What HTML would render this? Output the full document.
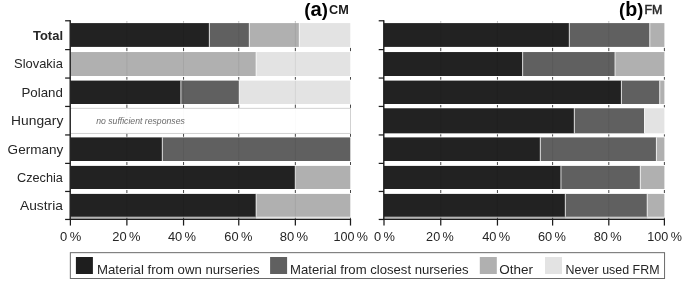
<!DOCTYPE html>
<html lang="en"><head><meta charset="utf-8"><title>FRM sources by country</title>
<style>
html,body{margin:0;padding:0;background:#fff;}
body{width:685px;height:283px;overflow:hidden;}
svg{display:block;opacity:0.999;will-change:transform;}
svg text{font-family:"Liberation Sans", "DejaVu Sans", sans-serif;}
.lab{font-size:13.3px;fill:#262626;}
.ax{stroke:#1c1c1c;stroke-width:1.25;fill:none;stroke-linecap:butt;}
.grid{stroke:#000;stroke-opacity:0.9;stroke-width:0.8;}
.gridin{stroke:#000;stroke-opacity:0.08;stroke-width:0.9;}
</style></head><body>
<svg width="685" height="283" viewBox="0 0 685 283">
<rect x="0" y="0" width="685" height="283" fill="#ffffff"/>
<g class="grid">
<line x1="126.88" y1="21.23" x2="126.88" y2="22.65" stroke-opacity="0.41"/>
<line x1="183.55" y1="21.23" x2="183.55" y2="22.65" stroke-opacity="0.41"/>
<line x1="238.75" y1="21.23" x2="238.75" y2="22.65" stroke-opacity="0.41"/>
<line x1="295.35" y1="21.23" x2="295.35" y2="22.65" stroke-opacity="0.41"/>
<line x1="126.88" y1="47.90" x2="126.88" y2="51.15"/>
<line x1="183.55" y1="47.90" x2="183.55" y2="51.15"/>
<line x1="238.75" y1="47.90" x2="238.75" y2="51.15"/>
<line x1="295.35" y1="47.90" x2="295.35" y2="51.15"/>
<line x1="350.50" y1="47.90" x2="350.50" y2="51.15"/>
<line x1="126.88" y1="77.00" x2="126.88" y2="79.70"/>
<line x1="183.55" y1="77.00" x2="183.55" y2="79.70"/>
<line x1="238.75" y1="77.00" x2="238.75" y2="79.70"/>
<line x1="295.35" y1="77.00" x2="295.35" y2="79.70"/>
<line x1="350.50" y1="77.00" x2="350.50" y2="79.70"/>
<line x1="126.88" y1="104.60" x2="126.88" y2="107.96"/>
<line x1="183.55" y1="104.60" x2="183.55" y2="107.96"/>
<line x1="238.75" y1="104.60" x2="238.75" y2="107.96"/>
<line x1="295.35" y1="104.60" x2="295.35" y2="107.96"/>
<line x1="350.50" y1="104.60" x2="350.50" y2="107.96"/>
<line x1="126.88" y1="133.64" x2="126.88" y2="136.80"/>
<line x1="183.55" y1="133.64" x2="183.55" y2="136.80"/>
<line x1="238.75" y1="133.64" x2="238.75" y2="136.80"/>
<line x1="295.35" y1="133.64" x2="295.35" y2="136.80"/>
<line x1="350.50" y1="133.64" x2="350.50" y2="136.80"/>
<line x1="126.88" y1="162.00" x2="126.88" y2="165.00"/>
<line x1="183.55" y1="162.00" x2="183.55" y2="165.00"/>
<line x1="238.75" y1="162.00" x2="238.75" y2="165.00"/>
<line x1="295.35" y1="162.00" x2="295.35" y2="165.00"/>
<line x1="350.50" y1="162.00" x2="350.50" y2="165.00"/>
<line x1="126.88" y1="190.00" x2="126.88" y2="193.00"/>
<line x1="183.55" y1="190.00" x2="183.55" y2="193.00"/>
<line x1="238.75" y1="190.00" x2="238.75" y2="193.00"/>
<line x1="295.35" y1="190.00" x2="295.35" y2="193.00"/>
<line x1="350.50" y1="190.00" x2="350.50" y2="193.00"/>
<line x1="126.88" y1="217.75" x2="126.88" y2="219.06"/>
<line x1="183.55" y1="217.75" x2="183.55" y2="219.06"/>
<line x1="238.75" y1="217.75" x2="238.75" y2="219.06"/>
<line x1="295.35" y1="217.75" x2="295.35" y2="219.06"/>
<line x1="350.50" y1="217.75" x2="350.50" y2="219.06"/>
</g>
<rect x="70.40" y="23.10" width="138.95" height="23.80" fill="#222222"/>
<rect x="209.35" y="23.10" width="39.95" height="23.80" fill="#606060"/>
<rect x="249.30" y="23.10" width="50.00" height="23.80" fill="#b0b0b0"/>
<rect x="299.30" y="23.10" width="51.00" height="23.80" fill="#e3e3e3"/>
<g stroke="#ffffff" stroke-opacity="0.75" stroke-width="1.00">
<line x1="209.35" y1="23.10" x2="209.35" y2="46.90"/>
<line x1="249.30" y1="23.10" x2="249.30" y2="46.90"/>
<line x1="299.30" y1="23.10" x2="299.30" y2="46.90"/>
</g>
<rect x="70.40" y="52.05" width="185.70" height="23.95" fill="#b0b0b0"/>
<rect x="256.10" y="52.05" width="94.20" height="23.95" fill="#e3e3e3"/>
<g stroke="#ffffff" stroke-opacity="0.75" stroke-width="1.00">
<line x1="256.10" y1="52.05" x2="256.10" y2="76.00"/>
</g>
<rect x="70.40" y="80.60" width="110.50" height="23.40" fill="#222222"/>
<rect x="180.90" y="80.60" width="58.30" height="23.40" fill="#606060"/>
<rect x="239.20" y="80.60" width="111.10" height="23.40" fill="#e3e3e3"/>
<g stroke="#ffffff" stroke-opacity="0.75" stroke-width="1.00">
<line x1="180.90" y1="80.60" x2="180.90" y2="104.00"/>
<line x1="239.20" y1="80.60" x2="239.20" y2="104.00"/>
</g>
<rect x="70.40" y="108.26" width="280.10" height="25.08" fill="#ffffff" stroke="#c2c2c2" stroke-width="0.75"/>
<rect x="70.40" y="137.40" width="91.90" height="23.60" fill="#222222"/>
<rect x="162.30" y="137.40" width="188.00" height="23.60" fill="#606060"/>
<g stroke="#ffffff" stroke-opacity="0.75" stroke-width="1.00">
<line x1="162.30" y1="137.40" x2="162.30" y2="161.00"/>
</g>
<rect x="70.40" y="165.90" width="224.85" height="23.10" fill="#222222"/>
<rect x="295.25" y="165.90" width="55.05" height="23.10" fill="#b0b0b0"/>
<g stroke="#ffffff" stroke-opacity="0.75" stroke-width="1.00">
<line x1="295.25" y1="165.90" x2="295.25" y2="189.00"/>
</g>
<rect x="70.40" y="193.90" width="185.70" height="22.85" fill="#222222"/>
<rect x="256.10" y="193.90" width="94.20" height="22.85" fill="#b0b0b0"/>
<g stroke="#ffffff" stroke-opacity="0.75" stroke-width="1.00">
<line x1="256.10" y1="193.90" x2="256.10" y2="216.75"/>
</g>
<g class="gridin">
<line x1="126.88" y1="23.10" x2="126.88" y2="46.90"/>
<line x1="183.55" y1="23.10" x2="183.55" y2="46.90"/>
<line x1="238.75" y1="23.10" x2="238.75" y2="46.90"/>
<line x1="295.35" y1="23.10" x2="295.35" y2="46.90"/>
<line x1="126.88" y1="52.05" x2="126.88" y2="76.00"/>
<line x1="183.55" y1="52.05" x2="183.55" y2="76.00"/>
<line x1="238.75" y1="52.05" x2="238.75" y2="76.00"/>
<line x1="295.35" y1="52.05" x2="295.35" y2="76.00"/>
<line x1="126.88" y1="80.60" x2="126.88" y2="104.00"/>
<line x1="183.55" y1="80.60" x2="183.55" y2="104.00"/>
<line x1="238.75" y1="80.60" x2="238.75" y2="104.00"/>
<line x1="295.35" y1="80.60" x2="295.35" y2="104.00"/>
<line x1="126.88" y1="108.26" x2="126.88" y2="133.34" stroke-opacity="0.025"/>
<line x1="183.55" y1="108.26" x2="183.55" y2="133.34" stroke-opacity="0.025"/>
<line x1="238.75" y1="108.26" x2="238.75" y2="133.34" stroke-opacity="0.025"/>
<line x1="295.35" y1="108.26" x2="295.35" y2="133.34" stroke-opacity="0.025"/>
<line x1="126.88" y1="137.40" x2="126.88" y2="161.00"/>
<line x1="183.55" y1="137.40" x2="183.55" y2="161.00"/>
<line x1="238.75" y1="137.40" x2="238.75" y2="161.00"/>
<line x1="295.35" y1="137.40" x2="295.35" y2="161.00"/>
<line x1="126.88" y1="165.90" x2="126.88" y2="189.00"/>
<line x1="183.55" y1="165.90" x2="183.55" y2="189.00"/>
<line x1="238.75" y1="165.90" x2="238.75" y2="189.00"/>
<line x1="295.35" y1="165.90" x2="295.35" y2="189.00"/>
<line x1="126.88" y1="193.90" x2="126.88" y2="216.75"/>
<line x1="183.55" y1="193.90" x2="183.55" y2="216.75"/>
<line x1="238.75" y1="193.90" x2="238.75" y2="216.75"/>
<line x1="295.35" y1="193.90" x2="295.35" y2="216.75"/>
</g>
<rect x="70.40" y="216.75" width="185.70" height="2.21" fill="#222222" fill-opacity="0.34"/>
<rect x="256.10" y="216.75" width="94.20" height="2.21" fill="#b0b0b0" fill-opacity="0.34"/>
<g class="ax">
<line x1="70.20" y1="20.18" x2="70.20" y2="220.06" stroke-width="1.4"/>
<line x1="69.80" y1="219.46" x2="351.10" y2="219.46"/>
<line x1="65.10" y1="20.78" x2="70.40" y2="20.78"/>
<line x1="65.10" y1="49.60" x2="70.40" y2="49.60"/>
<line x1="65.10" y1="78.05" x2="70.40" y2="78.05"/>
<line x1="65.10" y1="106.44" x2="70.40" y2="106.44"/>
<line x1="65.10" y1="134.95" x2="70.40" y2="134.95"/>
<line x1="65.10" y1="163.40" x2="70.40" y2="163.40"/>
<line x1="65.10" y1="191.46" x2="70.40" y2="191.46"/>
<line x1="65.10" y1="219.46" x2="70.40" y2="219.46"/>
<line x1="70.40" y1="219.46" x2="70.40" y2="225.56"/>
<line x1="126.88" y1="219.46" x2="126.88" y2="225.56"/>
<line x1="183.55" y1="219.46" x2="183.55" y2="225.56"/>
<line x1="238.75" y1="219.46" x2="238.75" y2="225.56"/>
<line x1="295.35" y1="219.46" x2="295.35" y2="225.56"/>
<line x1="350.50" y1="219.46" x2="350.50" y2="225.56"/>
</g>
<g class="grid">
<line x1="440.75" y1="21.23" x2="440.75" y2="22.65" stroke-opacity="0.41"/>
<line x1="497.45" y1="21.23" x2="497.45" y2="22.65" stroke-opacity="0.41"/>
<line x1="552.60" y1="21.23" x2="552.60" y2="22.65" stroke-opacity="0.41"/>
<line x1="608.80" y1="21.23" x2="608.80" y2="22.65" stroke-opacity="0.41"/>
<line x1="440.75" y1="47.90" x2="440.75" y2="51.15"/>
<line x1="497.45" y1="47.90" x2="497.45" y2="51.15"/>
<line x1="552.60" y1="47.90" x2="552.60" y2="51.15"/>
<line x1="608.80" y1="47.90" x2="608.80" y2="51.15"/>
<line x1="664.40" y1="47.90" x2="664.40" y2="51.15"/>
<line x1="440.75" y1="77.00" x2="440.75" y2="79.70"/>
<line x1="497.45" y1="77.00" x2="497.45" y2="79.70"/>
<line x1="552.60" y1="77.00" x2="552.60" y2="79.70"/>
<line x1="608.80" y1="77.00" x2="608.80" y2="79.70"/>
<line x1="664.40" y1="77.00" x2="664.40" y2="79.70"/>
<line x1="440.75" y1="105.00" x2="440.75" y2="107.36"/>
<line x1="497.45" y1="105.00" x2="497.45" y2="107.36"/>
<line x1="552.60" y1="105.00" x2="552.60" y2="107.36"/>
<line x1="608.80" y1="105.00" x2="608.80" y2="107.36"/>
<line x1="664.40" y1="105.00" x2="664.40" y2="107.36"/>
<line x1="440.75" y1="134.34" x2="440.75" y2="136.50"/>
<line x1="497.45" y1="134.34" x2="497.45" y2="136.50"/>
<line x1="552.60" y1="134.34" x2="552.60" y2="136.50"/>
<line x1="608.80" y1="134.34" x2="608.80" y2="136.50"/>
<line x1="664.40" y1="134.34" x2="664.40" y2="136.50"/>
<line x1="440.75" y1="162.00" x2="440.75" y2="165.00"/>
<line x1="497.45" y1="162.00" x2="497.45" y2="165.00"/>
<line x1="552.60" y1="162.00" x2="552.60" y2="165.00"/>
<line x1="608.80" y1="162.00" x2="608.80" y2="165.00"/>
<line x1="664.40" y1="162.00" x2="664.40" y2="165.00"/>
<line x1="440.75" y1="190.00" x2="440.75" y2="193.00"/>
<line x1="497.45" y1="190.00" x2="497.45" y2="193.00"/>
<line x1="552.60" y1="190.00" x2="552.60" y2="193.00"/>
<line x1="608.80" y1="190.00" x2="608.80" y2="193.00"/>
<line x1="664.40" y1="190.00" x2="664.40" y2="193.00"/>
<line x1="440.75" y1="217.75" x2="440.75" y2="219.06"/>
<line x1="497.45" y1="217.75" x2="497.45" y2="219.06"/>
<line x1="552.60" y1="217.75" x2="552.60" y2="219.06"/>
<line x1="608.80" y1="217.75" x2="608.80" y2="219.06"/>
<line x1="664.40" y1="217.75" x2="664.40" y2="219.06"/>
</g>
<rect x="384.00" y="23.10" width="185.30" height="23.80" fill="#222222"/>
<rect x="569.30" y="23.10" width="80.50" height="23.80" fill="#606060"/>
<rect x="649.80" y="23.10" width="14.60" height="23.80" fill="#b0b0b0"/>
<g stroke="#ffffff" stroke-opacity="0.75" stroke-width="1.00">
<line x1="569.30" y1="23.10" x2="569.30" y2="46.90"/>
<line x1="649.80" y1="23.10" x2="649.80" y2="46.90"/>
</g>
<rect x="384.00" y="52.05" width="138.65" height="23.95" fill="#222222"/>
<rect x="522.65" y="52.05" width="92.35" height="23.95" fill="#606060"/>
<rect x="615.00" y="52.05" width="49.40" height="23.95" fill="#b0b0b0"/>
<g stroke="#ffffff" stroke-opacity="0.75" stroke-width="1.00">
<line x1="522.65" y1="52.05" x2="522.65" y2="76.00"/>
<line x1="615.00" y1="52.05" x2="615.00" y2="76.00"/>
</g>
<rect x="384.00" y="80.60" width="237.40" height="23.40" fill="#222222"/>
<rect x="621.40" y="80.60" width="38.35" height="23.40" fill="#606060"/>
<rect x="659.75" y="80.60" width="4.65" height="23.40" fill="#b0b0b0"/>
<g stroke="#ffffff" stroke-opacity="0.75" stroke-width="1.00">
<line x1="621.40" y1="80.60" x2="621.40" y2="104.00"/>
<line x1="659.75" y1="80.60" x2="659.75" y2="104.00"/>
</g>
<rect x="384.00" y="108.26" width="190.30" height="25.08" fill="#222222"/>
<rect x="574.30" y="108.26" width="70.20" height="25.08" fill="#606060"/>
<rect x="644.50" y="108.26" width="19.90" height="25.08" fill="#e3e3e3"/>
<g stroke="#ffffff" stroke-opacity="0.75" stroke-width="1.00">
<line x1="574.30" y1="108.26" x2="574.30" y2="133.34"/>
<line x1="644.50" y1="108.26" x2="644.50" y2="133.34"/>
</g>
<rect x="384.00" y="137.40" width="156.30" height="23.60" fill="#222222"/>
<rect x="540.30" y="137.40" width="116.10" height="23.60" fill="#606060"/>
<rect x="656.40" y="137.40" width="8.00" height="23.60" fill="#b0b0b0"/>
<g stroke="#ffffff" stroke-opacity="0.75" stroke-width="1.00">
<line x1="540.30" y1="137.40" x2="540.30" y2="161.00"/>
<line x1="656.40" y1="137.40" x2="656.40" y2="161.00"/>
</g>
<rect x="384.00" y="165.90" width="176.95" height="23.10" fill="#222222"/>
<rect x="560.95" y="165.90" width="79.35" height="23.10" fill="#606060"/>
<rect x="640.30" y="165.90" width="24.10" height="23.10" fill="#b0b0b0"/>
<g stroke="#ffffff" stroke-opacity="0.75" stroke-width="1.00">
<line x1="560.95" y1="165.90" x2="560.95" y2="189.00"/>
<line x1="640.30" y1="165.90" x2="640.30" y2="189.00"/>
</g>
<rect x="384.00" y="193.90" width="181.30" height="22.85" fill="#222222"/>
<rect x="565.30" y="193.90" width="81.90" height="22.85" fill="#606060"/>
<rect x="647.20" y="193.90" width="17.20" height="22.85" fill="#b0b0b0"/>
<g stroke="#ffffff" stroke-opacity="0.75" stroke-width="1.00">
<line x1="565.30" y1="193.90" x2="565.30" y2="216.75"/>
<line x1="647.20" y1="193.90" x2="647.20" y2="216.75"/>
</g>
<g class="gridin">
<line x1="440.75" y1="23.10" x2="440.75" y2="46.90"/>
<line x1="497.45" y1="23.10" x2="497.45" y2="46.90"/>
<line x1="552.60" y1="23.10" x2="552.60" y2="46.90"/>
<line x1="608.80" y1="23.10" x2="608.80" y2="46.90"/>
<line x1="440.75" y1="52.05" x2="440.75" y2="76.00"/>
<line x1="497.45" y1="52.05" x2="497.45" y2="76.00"/>
<line x1="552.60" y1="52.05" x2="552.60" y2="76.00"/>
<line x1="608.80" y1="52.05" x2="608.80" y2="76.00"/>
<line x1="440.75" y1="80.60" x2="440.75" y2="104.00"/>
<line x1="497.45" y1="80.60" x2="497.45" y2="104.00"/>
<line x1="552.60" y1="80.60" x2="552.60" y2="104.00"/>
<line x1="608.80" y1="80.60" x2="608.80" y2="104.00"/>
<line x1="440.75" y1="108.26" x2="440.75" y2="133.34"/>
<line x1="497.45" y1="108.26" x2="497.45" y2="133.34"/>
<line x1="552.60" y1="108.26" x2="552.60" y2="133.34"/>
<line x1="608.80" y1="108.26" x2="608.80" y2="133.34"/>
<line x1="440.75" y1="137.40" x2="440.75" y2="161.00"/>
<line x1="497.45" y1="137.40" x2="497.45" y2="161.00"/>
<line x1="552.60" y1="137.40" x2="552.60" y2="161.00"/>
<line x1="608.80" y1="137.40" x2="608.80" y2="161.00"/>
<line x1="440.75" y1="165.90" x2="440.75" y2="189.00"/>
<line x1="497.45" y1="165.90" x2="497.45" y2="189.00"/>
<line x1="552.60" y1="165.90" x2="552.60" y2="189.00"/>
<line x1="608.80" y1="165.90" x2="608.80" y2="189.00"/>
<line x1="440.75" y1="193.90" x2="440.75" y2="216.75"/>
<line x1="497.45" y1="193.90" x2="497.45" y2="216.75"/>
<line x1="552.60" y1="193.90" x2="552.60" y2="216.75"/>
<line x1="608.80" y1="193.90" x2="608.80" y2="216.75"/>
</g>
<rect x="384.00" y="216.75" width="181.30" height="2.21" fill="#222222" fill-opacity="0.34"/>
<rect x="565.30" y="216.75" width="81.90" height="2.21" fill="#606060" fill-opacity="0.34"/>
<rect x="647.20" y="216.75" width="17.00" height="2.21" fill="#b0b0b0" fill-opacity="0.34"/>
<g class="ax">
<line x1="383.80" y1="20.18" x2="383.80" y2="220.06" stroke-width="1.4"/>
<line x1="383.40" y1="219.46" x2="665.00" y2="219.46"/>
<line x1="378.70" y1="20.78" x2="384.00" y2="20.78"/>
<line x1="378.70" y1="49.60" x2="384.00" y2="49.60"/>
<line x1="378.70" y1="78.05" x2="384.00" y2="78.05"/>
<line x1="378.70" y1="106.44" x2="384.00" y2="106.44"/>
<line x1="378.70" y1="134.95" x2="384.00" y2="134.95"/>
<line x1="378.70" y1="163.40" x2="384.00" y2="163.40"/>
<line x1="378.70" y1="191.46" x2="384.00" y2="191.46"/>
<line x1="378.70" y1="219.46" x2="384.00" y2="219.46"/>
<line x1="384.00" y1="219.46" x2="384.00" y2="225.56"/>
<line x1="440.75" y1="219.46" x2="440.75" y2="225.56"/>
<line x1="497.45" y1="219.46" x2="497.45" y2="225.56"/>
<line x1="552.60" y1="219.46" x2="552.60" y2="225.56"/>
<line x1="608.80" y1="219.46" x2="608.80" y2="225.56"/>
<line x1="664.40" y1="219.46" x2="664.40" y2="225.56"/>
</g>
<text x="96.2" y="123.5" font-size="9.7" font-style="italic" fill="#6a6a6a" textLength="88.6" lengthAdjust="spacingAndGlyphs">no sufficient responses</text>
<text class="lab" x="33.00" y="39.90" textLength="30.00" lengthAdjust="spacingAndGlyphs" font-weight="bold">Total</text>
<text class="lab" x="14.00" y="68.40" textLength="48.90" lengthAdjust="spacingAndGlyphs">Slovakia</text>
<text class="lab" x="21.50" y="96.70" textLength="41.40" lengthAdjust="spacingAndGlyphs">Poland</text>
<text class="lab" x="11.10" y="125.30" textLength="52.20" lengthAdjust="spacingAndGlyphs">Hungary</text>
<text class="lab" x="7.60" y="153.70" textLength="55.70" lengthAdjust="spacingAndGlyphs">Germany</text>
<text class="lab" x="17.00" y="181.80" textLength="45.90" lengthAdjust="spacingAndGlyphs">Czechia</text>
<text class="lab" x="20.00" y="209.90" textLength="42.90" lengthAdjust="spacingAndGlyphs">Austria</text>
<text class="lab" x="60.10" y="241.1" textLength="21.10" lengthAdjust="spacingAndGlyphs" style="word-spacing:-1.3px">0 %</text>
<text class="lab" x="112.20" y="241.1" textLength="28.20" lengthAdjust="spacingAndGlyphs" style="word-spacing:-1.3px">20 %</text>
<text class="lab" x="167.90" y="241.1" textLength="28.20" lengthAdjust="spacingAndGlyphs" style="word-spacing:-1.3px">40 %</text>
<text class="lab" x="224.35" y="241.1" textLength="28.00" lengthAdjust="spacingAndGlyphs" style="word-spacing:-1.3px">60 %</text>
<text class="lab" x="279.80" y="241.1" textLength="28.40" lengthAdjust="spacingAndGlyphs" style="word-spacing:-1.3px">80 %</text>
<text class="lab" x="333.45" y="241.1" textLength="34.40" lengthAdjust="spacingAndGlyphs" style="word-spacing:-1.3px">100 %</text>
<text class="lab" x="374.00" y="241.1" textLength="20.90" lengthAdjust="spacingAndGlyphs" style="word-spacing:-1.3px">0 %</text>
<text class="lab" x="426.10" y="241.1" textLength="27.60" lengthAdjust="spacingAndGlyphs" style="word-spacing:-1.3px">20 %</text>
<text class="lab" x="482.20" y="241.1" textLength="28.00" lengthAdjust="spacingAndGlyphs" style="word-spacing:-1.3px">40 %</text>
<text class="lab" x="537.90" y="241.1" textLength="28.00" lengthAdjust="spacingAndGlyphs" style="word-spacing:-1.3px">60 %</text>
<text class="lab" x="593.70" y="241.1" textLength="28.00" lengthAdjust="spacingAndGlyphs" style="word-spacing:-1.3px">80 %</text>
<text class="lab" x="647.35" y="241.1" textLength="34.50" lengthAdjust="spacingAndGlyphs" style="word-spacing:-1.3px">100 %</text>
<text x="304.3" y="15.6" font-size="19.3" font-weight="bold" fill="#000" textLength="23.6" lengthAdjust="spacingAndGlyphs"><tspan font-size="17.8" dy="0.3">(</tspan><tspan dy="-0.3">a</tspan><tspan font-size="17.8" dy="0.3">)</tspan></text>
<text x="329.1" y="14.15" font-size="12" font-weight="bold" fill="#1a1a1a" textLength="19.75" lengthAdjust="spacingAndGlyphs">CM</text>
<text x="619.1" y="15.6" font-size="19.3" font-weight="bold" fill="#000" textLength="24.1" lengthAdjust="spacingAndGlyphs"><tspan font-size="17.8" dy="0.3">(</tspan><tspan dy="-0.3">b</tspan><tspan font-size="17.8" dy="0.3">)</tspan></text>
<text x="644.5" y="14.3" font-size="12" fill="#2a2a2a" stroke="#2a2a2a" stroke-width="0.5" textLength="17.8" lengthAdjust="spacingAndGlyphs">FM</text>
<rect x="70.3" y="252.7" width="594.3" height="25.8" fill="#ffffff" stroke="#5a5a5a" stroke-width="0.9"/>
<rect x="75.90" y="257.0" width="17.0" height="17.0" fill="#1e1e1e"/>
<rect x="270.10" y="257.0" width="17.0" height="17.0" fill="#606060"/>
<rect x="479.80" y="257.0" width="17.0" height="17.0" fill="#b0b0b0"/>
<rect x="545.00" y="257.0" width="17.0" height="17.0" fill="#e3e3e3"/>
<text class="lab" x="96.90" y="273.8" textLength="162.80" lengthAdjust="spacingAndGlyphs">Material from own nurseries</text>
<text class="lab" x="290.10" y="273.8" textLength="178.50" lengthAdjust="spacingAndGlyphs">Material from closest nurseries</text>
<text class="lab" x="499.30" y="273.8" textLength="33.70" lengthAdjust="spacingAndGlyphs">Other</text>
<text class="lab" x="565.50" y="273.8" textLength="94.00" lengthAdjust="spacingAndGlyphs">Never used FRM</text>
</svg>
</body></html>
